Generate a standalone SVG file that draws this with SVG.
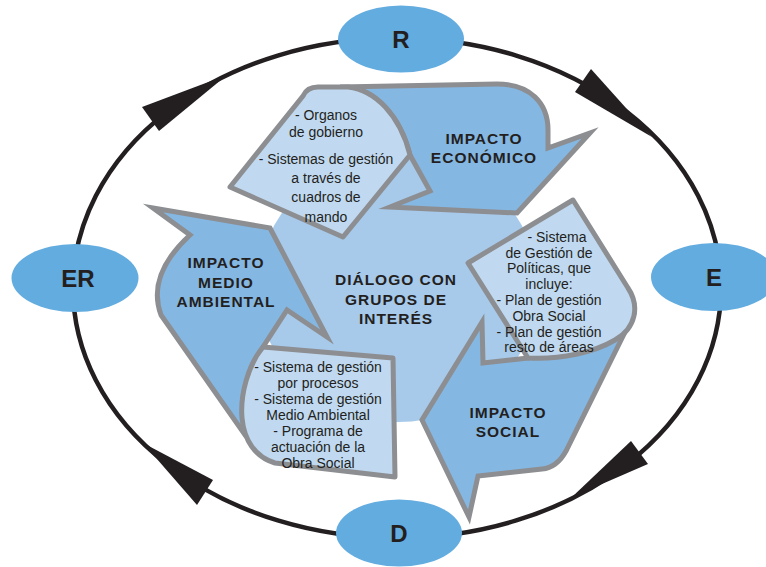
<svg xmlns="http://www.w3.org/2000/svg" width="766" height="567" viewBox="0 0 766 567">
  <style>
    .ring{fill:none;stroke:#231f20;stroke-width:4.5}
    .head{fill:#231f20}
    .node{fill:#63acdf}
    .nlab{font-family:"Liberation Sans",Arial,sans-serif;font-weight:bold;font-size:24px;fill:#231f20;text-anchor:middle}
    .hub{fill:#a7c9ea}
    .band{fill:#85b7e3;stroke:#8c8e91;stroke-width:5;stroke-linejoin:miter;stroke-miterlimit:10}
    .page{fill:#c0d9f0;stroke:#8c8e91;stroke-width:5;stroke-linejoin:round}
    .ttl{font-family:"Liberation Sans",Arial,sans-serif;font-weight:bold;font-size:15.5px;letter-spacing:1px;fill:#231f20;text-anchor:middle}
    .txt{font-family:"Liberation Sans",Arial,sans-serif;font-size:14px;fill:#231f20;text-anchor:middle}
  </style>

  <!-- cycle ring with its four arrowheads -->
  <g id="connectors">
    <path id="edge-er-r" class="ring" d="M73,288 A324,250 0 0 1 397,38"/>
    <path id="edge-r-e" class="ring" d="M397,38 A324,250 0 0 1 721,288"/>
    <path id="edge-e-d" class="ring" d="M721,288 A324,250 0 0 1 397,538"/>
    <path id="edge-d-er" class="ring" d="M397,538 A324,250 0 0 1 73,288"/>
    <polygon class="head" points="142,107 159,131 227,75"/>
    <polygon class="head" points="575,92 591,69 652,137"/>
    <polygon class="head" points="631,441 648,464 572,497"/>
    <polygon class="head" points="213,480 197,505 143,443"/>
  </g>

  <g id="node-r">
    <ellipse class="node" cx="401" cy="39" rx="63" ry="33.5"/>
    <text class="nlab" x="401" y="48">R</text>
  </g>
  <g id="node-e">
    <ellipse class="node" cx="714" cy="277" rx="63" ry="34"/>
    <text class="nlab" x="714" y="286">E</text>
  </g>
  <g id="node-d">
    <ellipse class="node" cx="399" cy="533" rx="63" ry="33.5"/>
    <text class="nlab" x="399" y="542">D</text>
  </g>
  <g id="node-er">
    <ellipse class="node" cx="75" cy="278" rx="63.5" ry="34"/>
    <text class="nlab" x="78" y="287">ER</text>
  </g>

  <!-- central hub -->
  <g id="hub">
    <ellipse class="hub" cx="398" cy="288" rx="140" ry="134"/>
    <text class="ttl" x="396" y="285">DIÁLOGO CON</text>
    <text class="ttl" x="396" y="305">GRUPOS DE</text>
    <text class="ttl" x="396" y="324">INTERÉS</text>
  </g>

  <!-- economic ribbon -->
  <g id="impacto-economico">
    <path class="band" d="M340,87 L497,84 C530,84 548,103 548,130 L548,148 L590,133 L517,213 L390,207 L430,191 L410,155 C400,115 375,90 348,87 Z"/>
    <path class="page" d="M303,96 Q307,87 318,87 L348,87 C375,90 400,115 410,155 L343,237 L230,187 Z"/>
    <text class="ttl" x="484" y="144">IMPACTO</text>
    <text class="ttl" x="484" y="163">ECONÓMICO</text>
    <text class="txt" x="326" y="120">- Organos</text>
    <text class="txt" x="326" y="137">de gobierno</text>
    <text class="txt" x="326" y="164">- Sistemas de gestión</text>
    <text class="txt" x="326" y="183">a través de</text>
    <text class="txt" x="326" y="202">cuadros de</text>
    <text class="txt" x="326" y="222">mando</text>
  </g>

  <!-- environmental ribbon -->
  <g id="impacto-medio-ambiental">
    <path class="band" d="M153,208 L270,228 L327,337 L287,310 L263,347 L250,375 L243,432 L161,315 C150,285 165,258 190,235 Z"/>
    <path class="page" d="M263,347 L393,358 L395,477 L275,463 C255,457 244,440 242,418 C240,395 248,365 263,347 Z"/>
    <text class="ttl" x="226" y="268">IMPACTO</text>
    <text class="ttl" x="226" y="288">MEDIO</text>
    <text class="ttl" x="226" y="307">AMBIENTAL</text>
    <text class="txt" x="318" y="372">- Sistema de gestión</text>
    <text class="txt" x="318" y="388">por procesos</text>
    <text class="txt" x="318" y="404">- Sistema de gestión</text>
    <text class="txt" x="318" y="420">Medio Ambiental</text>
    <text class="txt" x="318" y="436">- Programa de</text>
    <text class="txt" x="318" y="452">actuación de la</text>
    <text class="txt" x="318" y="468">Obra Social</text>
  </g>

  <!-- social ribbon -->
  <g id="impacto-social">
    <path class="band" d="M482,322 L422,420 L469,517 L478,476 L542,469 C553,468 560,462 566,451 L632,318 L528,358 L483,363 Z"/>
    <path class="page" d="M573,200 L628,288 C640,306 636,328 615,340 C595,352 560,360 528,358 L468,263 Z"/>
    <text class="ttl" x="508" y="418">IMPACTO</text>
    <text class="ttl" x="508" y="437">SOCIAL</text>
    <text class="txt" x="557" y="242">- Sistema</text>
    <text class="txt" x="549" y="258">de Gestión de</text>
    <text class="txt" x="549" y="273">Políticas, que</text>
    <text class="txt" x="549" y="289">incluye:</text>
    <text class="txt" x="549" y="305">- Plan de gestión</text>
    <text class="txt" x="549" y="321">Obra Social</text>
    <text class="txt" x="549" y="337">- Plan de gestión</text>
    <text class="txt" x="549" y="352">resto de áreas</text>
  </g>
</svg>
